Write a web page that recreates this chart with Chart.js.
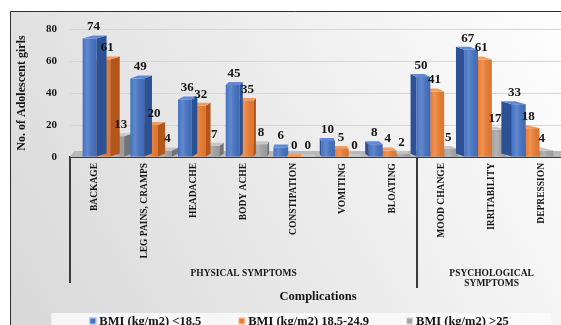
<!DOCTYPE html>
<html>
<head>
<meta charset="utf-8">
<script src="https://cdn.jsdelivr.net/npm/chart.js@4.4.0/dist/chart.umd.min.js"></script>
<style>
  html, body { margin: 0; padding: 0; background: #fff; overflow: hidden; width: 561px; height: 325px; }
  #c { display: block; position: absolute; left: 0; top: 0; }
</style>
</head>
<body>
<canvas id="c" width="578" height="334"></canvas>
<script>
// Complications reported by adolescent girls, by BMI class
const categories = ['BACKAGE', 'LEG PAINS, CRAMPS', 'HEADACHE', 'BODY ACHE', 'CONSTIPATION',
                    'VOMITING', 'BLOATING', 'MOOD CHANGE', 'IRRITABILITY', 'DEPRESSION'];
const groupNames = [['PHYSICAL SYMPTOMS'], ['PSYCHOLOGICAL', 'SYMPTOMS']];
const groupSizes = [7, 3];
const seriesNames = ['BMI (kg/m2) <18.5', 'BMI (kg/m2) 18.5-24.9', 'BMI (kg/m2) >25'];
const underweight = [74, 49, 36, 45, 6, 10, 8, 50, 67, 33];
const normalWeight = [61, 20, 32, 35, 0, 5, 4, 41, 61, 18];
const overweight = [13, 4, 7, 8, 0, 0, 2, 5, 17, 4];
const yTicks = [0, 20, 40, 60, 80];

const SERIF = "'Liberation Serif', 'Times New Roman', serif";
const INK = '#141414';
const frontColors = ['#4472C4', '#ED7D31', '#A5A5A5'];
const sideColors = ['#2C5194', '#B4561A', '#747474'];
const topColors = ['#5E8AD8', '#F39B5E', '#C6C6C6'];
// perspective of the 3-D columns: sides fan out from vanishX
const depth = { vanishX: 300, k: 0.048, rise: 3 };

function asPoints(values) { return values.map((v, i) => ({ x: i, y: v })); }

// frame + soft gradient backdrop
const backdrop = {
  id: 'backdrop',
  beforeDraw(chart) {
    const { ctx, width, height } = chart;
    ctx.save();
    ctx.fillStyle = '#ffffff';
    ctx.fillRect(0, 0, width, height);
    const g = ctx.createLinearGradient(10, height, width, 11);
    g.addColorStop(0, '#d8d8d8');
    g.addColorStop(0.55, '#ededed');
    g.addColorStop(1, '#ffffff');
    ctx.fillStyle = g;
    ctx.fillRect(10, 11, width - 10, height - 11);
    ctx.strokeStyle = '#2e2e2e';
    ctx.lineWidth = 1;
    ctx.beginPath();
    ctx.moveTo(10.5, height);
    ctx.lineTo(10.5, 11.5);
    ctx.lineTo(width, 11.5);
    ctx.stroke();
    ctx.restore();
  }
};

// floor slab under the columns
const floor = {
  id: 'floor',
  beforeDatasetsDraw(chart) {
    const { ctx, chartArea } = chart;
    const y0 = chart.scales.y.getPixelForValue(0);
    ctx.save();
    ctx.fillStyle = '#b9b9b9';
    ctx.beginPath();
    ctx.moveTo(chartArea.left, y0);
    ctx.lineTo(chartArea.right, y0);
    ctx.lineTo(chartArea.right, y0 - 6);
    ctx.lineTo(chartArea.left + 4, y0 - 6);
    ctx.closePath();
    ctx.fill();
    ctx.restore();
  }
};

// side and top faces of each column, from the bar element geometry
const columnFaces = {
  id: 'columnFaces',
  afterDatasetDraw(chart, args) {
    const { ctx } = chart;
    const i = args.index;
    ctx.save();
    args.meta.data.forEach(bar => {
      const p = bar.getProps(['x', 'y', 'base', 'width'], true);
      const l = p.x - p.width / 2, r = p.x + p.width / 2;
      const t = Math.min(p.y, p.base), b = p.base;
      const dx = depth.k * (depth.vanishX - p.x);
      const dy = depth.rise;
      const edge = dx > 0 ? r : l;
      ctx.fillStyle = sideColors[i];
      ctx.beginPath();
      ctx.moveTo(edge, t); ctx.lineTo(edge + dx, t - dy);
      ctx.lineTo(edge + dx, b - dy); ctx.lineTo(edge, b);
      ctx.closePath(); ctx.fill();
      ctx.fillStyle = topColors[i];
      ctx.beginPath();
      ctx.moveTo(l, t); ctx.lineTo(r, t);
      ctx.lineTo(r + dx, t - dy); ctx.lineTo(l + dx, t - dy);
      ctx.closePath(); ctx.fill();
      // soft highlight on the front face
      if (b - t > 2) {
        const g = ctx.createLinearGradient(l, 0, r, 0);
        g.addColorStop(0, 'rgba(255,255,255,0)');
        g.addColorStop(0.35, 'rgba(255,255,255,0.16)');
        g.addColorStop(1, 'rgba(0,0,0,0.06)');
        ctx.fillStyle = g;
        ctx.fillRect(l, t, r - l, b - t);
      }
    });
    ctx.restore();
  }
};

// value labels above each column
const valueLabels = {
  id: 'valueLabels',
  afterDatasetsDraw(chart) {
    const { ctx } = chart;
    ctx.save();
    ctx.font = `bold 13px ${SERIF}`;
    ctx.fillStyle = INK;
    ctx.textAlign = 'center';
    ctx.textBaseline = 'bottom';
    chart.data.datasets.forEach((ds, i) => {
      chart.getDatasetMeta(i).data.forEach((bar, j) => {
        const p = bar.getProps(['x', 'y', 'base'], true);
        const dx = depth.k * (depth.vanishX - p.x);
        ctx.fillText(String(ds.data[j].y), p.x + dx * 0.4, Math.min(p.y, p.base) - depth.rise - 2);
      });
    });
    ctx.restore();
  }
};

// group brackets under the category labels
const groupBands = {
  id: 'groupBands',
  afterDraw(chart) {
    const { ctx, chartArea } = chart;
    const xs = chart.scales.xl;
    const top = chartArea.bottom;
    ctx.save();
    ctx.strokeStyle = '#3a3a3a';
    ctx.lineWidth = 2;
    let start = 0;
    const bounds = [chartArea.left];
    groupSizes.forEach((n, g) => {
      const end = start + n - 1;
      const right = end < categories.length - 1
        ? (xs.getPixelForTick(end) + xs.getPixelForTick(end + 1)) / 2
        : chartArea.right;
      bounds.push(right);
      const cx = (xs.getPixelForTick(start) + xs.getPixelForTick(end)) / 2;
      ctx.font = `bold 9.5px ${SERIF}`;
      ctx.fillStyle = INK;
      ctx.textAlign = 'center';
      ctx.textBaseline = 'middle';
      groupNames[g].forEach((line, k) => ctx.fillText(line, cx, top + 117 + k * 10));
      start += n;
    });
    bounds.forEach((x, k) => {
      ctx.beginPath();
      ctx.moveTo(Math.round(x), top);
      ctx.lineTo(Math.round(x), top + (k === 0 ? 126 : 131));
      ctx.stroke();
    });
    ctx.restore();
  }
};

// legend strip built from the datasets
const legendStrip = {
  id: 'legendStrip',
  afterDraw(chart) {
    const { ctx, width } = chart;
    const y = 321;
    const box = 7, gapText = 3, gapItem = 37;
    ctx.save();
    ctx.font = `bold 12.5px ${SERIF}`;
    const items = chart.data.datasets.map(ds => ({
      text: ds.label, color: ds.backgroundColor, w: box + gapText + ctx.measureText(ds.label).width
    }));
    const total = items.reduce((s, it) => s + it.w, 0) + gapItem * (items.length - 1);
    let x = (20 + width) / 2 - total / 2;
    ctx.fillStyle = 'rgba(250,250,250,0.85)';
    ctx.fillRect(x - 38, y - 8, total + 81, 30);
    ctx.textAlign = 'left';
    ctx.textBaseline = 'middle';
    items.forEach(it => {
      ctx.fillStyle = it.color;
      ctx.fillRect(x, y - box / 2, box, box);
      ctx.strokeStyle = 'rgba(255,255,255,0.7)';
      ctx.lineWidth = 1;
      ctx.strokeRect(x + 0.5, y - box / 2 + 0.5, box - 1, box - 1);
      ctx.fillStyle = INK;
      ctx.fillText(it.text, x + box + gapText, y + 1);
      x += it.w + gapItem;
    });
    ctx.restore();
  }
};

const datasets = [underweight, normalWeight, overweight].map((vals, i) => ({
  label: seriesNames[i],
  data: asPoints(vals),
  backgroundColor: frontColors[i],
  borderWidth: 0,
  xAxisID: 'x',
  yAxisID: 'y',
  categoryPercentage: 0.87,
  barPercentage: 1.0
}));

new Chart(document.getElementById('c'), {
  type: 'bar',
  data: { datasets },
  plugins: [backdrop, floor, columnFaces, valueLabels, groupBands, legendStrip],
  options: {
    responsive: false,
    animation: false,
    devicePixelRatio: 1,
    layout: { padding: { left: 10, top: 29, right: 12, bottom: 27 } },
    plugins: { legend: { display: false }, tooltip: { enabled: false } },
    scales: {
      // columns sit on their own linear index axis (slightly narrower spacing than the labels)
      x: {
        type: 'linear', display: false, bounds: 'data', offset: false, min: -0.7, max: 9.7,
        afterBuildTicks(s) { s.ticks = categories.map((_, i) => ({ value: i })); }
      },
      xl: {
        type: 'category',
        position: 'bottom',
        labels: categories,
        offset: true,
        z: 1,
        grid: { display: false, drawTicks: false },
        border: { display: true, color: '#3a3a3a', width: 2 },
        ticks: {
          autoSkip: false, minRotation: 90, maxRotation: 90, padding: 6,
          color: INK, font: { family: SERIF, size: 9.5, weight: 'bold' }
        },
        title: {
          display: true, text: 'Complications', color: INK,
          font: { family: SERIF, size: 12.5, weight: 'bold' },
          padding: { top: 0, bottom: 2.5 }
        },
        afterFit(s) { s.height = 150; }
      },
      y: {
        min: 0, max: 80,
        afterBuildTicks(s) { s.ticks = yTicks.map(v => ({ value: v })); },
        grid: { color: '#d6d6d6', drawTicks: false },
        border: { display: false },
        ticks: { padding: 13, color: INK, font: { family: SERIF, size: 11, weight: 'bold' } },
        title: {
          display: true, text: 'No. of Adolescent girls', color: INK,
          font: { family: SERIF, size: 12, weight: 'bold' },
          padding: { top: 5, bottom: 0 }
        },
        afterFit(s) { s.width = 60; }
      }
    }
  }
});
</script>
</body>
</html>
